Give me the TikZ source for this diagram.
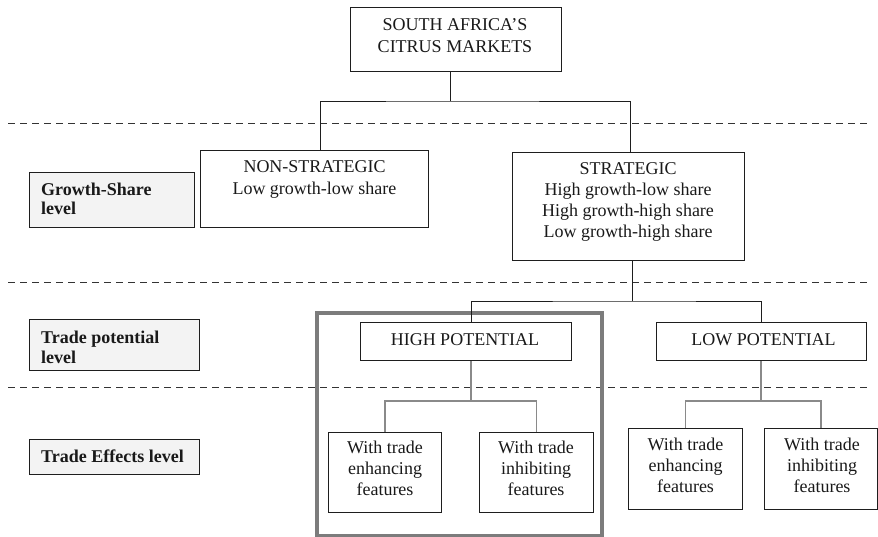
\documentclass[tikz,border=0pt]{standalone}
\usepackage{fontspec}
\setmainfont{Liberation Serif}
\definecolor{boxline}{HTML}{1E1E1E}
\definecolor{lblfill}{HTML}{F3F3F3}
\definecolor{frame}{HTML}{7C7C7C}
\definecolor{gline}{HTML}{8A8A8A}
\definecolor{dline}{HTML}{333333}
\tikzset{
  box/.style={draw=boxline, line width=1.1pt, inner sep=0pt, anchor=north west},
  lblbox/.style={box, fill=lblfill},
  txt/.style={inner sep=0pt, align=center, text=black!90, font=\fontsize{18}{21}\selectfont},
  lbltxt/.style={inner sep=0pt, align=left, text=black!90, font=\fontsize{18}{19.5}\selectfont\bfseries},
  conn/.style={draw=boxline, line width=0.9pt},
  gconn/.style={draw=gline, line width=1.2pt},
  level/.style={draw=dline, line width=1pt, dash pattern=on 7pt off 5pt},
  hframe/.style={draw=frame, line width=3.5pt}
}
\begin{document}
\begin{tikzpicture}[x=1pt,y=-1pt]
\useasboundingbox (0,0) rectangle (878,536);
% level separators
\coordinate (d1l) at (8,123);  \coordinate (d1r) at (870,123);
\coordinate (d2l) at (8,282);  \coordinate (d2r) at (870,282);
\coordinate (d3l) at (8,387);  \coordinate (d3r) at (870,387);
\draw[level] (d1l) -- (d1r);
\draw[level] (d2l) -- (d2r);
\draw[level] (d3l) -- (d3r);
% highlight frame
\node[hframe, inner sep=0pt, anchor=north west, minimum width=285pt, minimum height=223pt] (frm) at (315,311) {};
% boxes
\node[box, minimum width=211pt, minimum height=64pt] (top) at (350,7) {};
\node[box, minimum width=228pt, minimum height=77pt] (ns) at (200,150) {};
\node[box, minimum width=232pt, minimum height=108pt] (st) at (512,152) {};
\node[box, minimum width=211pt, minimum height=38pt] (hp) at (360,322) {};
\node[box, minimum width=210pt, minimum height=38pt] (lp) at (656,322) {};
\node[box, minimum width=113pt, minimum height=80pt] (hpl) at (328,432) {};
\node[box, minimum width=114pt, minimum height=80pt] (hpr) at (479,432) {};
\node[box, minimum width=114pt, minimum height=81pt] (lpl) at (628,428) {};
\node[box, minimum width=113pt, minimum height=81pt] (lpr) at (764,428) {};
% level labels
\node[lblbox, minimum width=165pt, minimum height=55pt] (gs) at (29,172) {};
\node[lblbox, minimum width=170pt, minimum height=51pt] (tp) at (29,319) {};
\node[lblbox, minimum width=170pt, minimum height=35pt] (te) at (29,439) {};
% texts (base anchor = baseline of the last line)
\node[txt, anchor=base, font=\fontsize{18}{22}\selectfont] (ttop) at (455,52) {SOUTH AFRICA’S\\CITRUS MARKETS};
\node[txt, anchor=base, font=\fontsize{18}{22}\selectfont] (tns) at (314.5,194) {NON-STRATEGIC\\Low growth-low share};
\node[txt, anchor=base] (tst) at (628,237) {STRATEGIC\\High growth-low share\\High growth-high share\\Low growth-high share};
\node[txt, anchor=base] (thp) at (465,345) {HIGH POTENTIAL};
\node[txt, anchor=base] (tlp) at (763.5,345) {LOW POTENTIAL};
\node[txt, anchor=base] (thpl) at (385,495) {With trade\\enhancing\\features};
\node[txt, anchor=base] (thpr) at (536,495) {With trade\\inhibiting\\features};
\node[txt, anchor=base] (tlpl) at (685.5,492) {With trade\\enhancing\\features};
\node[txt, anchor=base] (tlpr) at (822,492) {With trade\\inhibiting\\features};
\node[lbltxt, anchor=base west] (tgs) at (41,214.5) {Growth-Share\\level};
\node[lbltxt, anchor=base west] (ttp) at (41,363) {Trade potential\\level};
\node[lbltxt, anchor=base west] (tte) at (41,462) {Trade Effects level};
% connectors
\coordinate (jA) at (450,101);
\coordinate (xA) at (320,0);
\coordinate (xS) at (630,0);
\draw[conn] (top.south -| jA) -- (jA);
\draw[conn] (ns.north -| xA) |- (jA) -| (st.north -| xS);
\coordinate (jB) at (632,301);
\coordinate (xB) at (471,0);
\draw[conn] (st.south -| jB) -- (jB);
\draw[conn] (hp.north -| xB) |- (jB) -| (lp.north);
\coordinate (jC) at (471,401);
\draw[gconn] (hp.south -| jC) -- (jC);
\draw[gconn] (hpl.north) |- (jC) -| (hpr.north);
\coordinate (jD) at (761,401);
\draw[gconn] (lp.south -| jD) -- (jD);
\draw[gconn] (lpl.north) |- (jD) -| (lpr.north);
\end{tikzpicture}
\end{document}
